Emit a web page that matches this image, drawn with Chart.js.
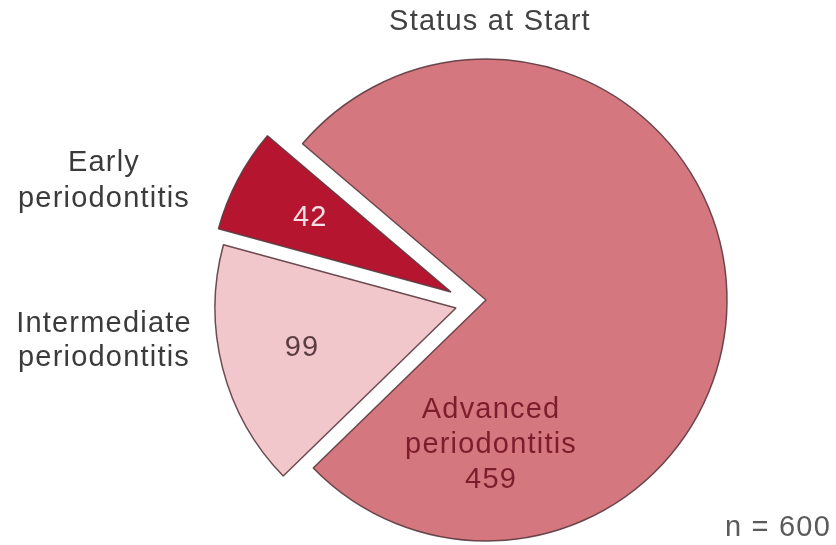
<!DOCTYPE html>
<html>
<head>
<meta charset="utf-8">
<title>Status at Start</title>
<script src="https://cdn.jsdelivr.net/npm/chart.js@4.4.0/dist/chart.umd.min.js"></script>
<style>
  html, body { margin: 0; padding: 0; background: #ffffff; }
  canvas { display: block; }
</style>
</head>
<body>
<canvas id="statusChart" width="836" height="545"></canvas>
<script>
// patient counts by periodontitis stage at start (clockwise from lower left)
const stages = ["Intermediate periodontitis", "Early periodontitis", "Advanced periodontitis"];
const patients = [99, 42, 459];
const totalLabel = "n = 600";

const sliceColors = ["#f1c7cb", "#b6152f", "#d5777f"];
// exploded slices are pushed out to the left
const sliceShift = [[-30, 8], [-35, -8], [0, 0]];

const FONT = "29px 'Liberation Sans', Arial, Helvetica, sans-serif";

function drawLines(ctx, lines, x, y, lineHeight) {
    const top = y - (lines.length - 1) * lineHeight / 2;
    lines.forEach((line, i) => ctx.fillText(line, x, top + i * lineHeight));
}

// draw each arc moved by its own shift instead of chart.js offset
const explodePlugin = {
    id: "explode",
    beforeDatasetDraw(chart, args) {
        const ctx = chart.ctx;
        args.meta.data.forEach((arc, i) => {
            ctx.save();
            ctx.translate(sliceShift[i][0], sliceShift[i][1]);
            arc.draw(ctx);
            ctx.restore();
        });
        return false;
    }
};

// value labels inside slices, names outside, title and total
const labelPlugin = {
    id: "sliceLabels",
    afterDraw(chart) {
        const ctx = chart.ctx;
        const arcs = chart.getDatasetMeta(0).data;
        ctx.save();
        ctx.font = FONT;
        ctx.letterSpacing = "1.2px";
        ctx.textAlign = "center";
        ctx.textBaseline = "middle";

        // inside labels: [angle override (deg) or null for mid angle, distance as share of radius, colour, lines]
        const inside = [
            [null, 0.66, "#5b3c40", [String(patients[0])]],
            [null, 0.66, "#f6e0e3", [String(patients[1])]],
            [88, 0.6, "#7c1d2d", ["Advanced", "periodontitis", String(patients[2])]]
        ];
        arcs.forEach((arc, i) => {
            const p = arc.getProps(["x", "y", "startAngle", "endAngle", "outerRadius"], true);
            const spec = inside[i];
            const a = spec[0] === null ? (p.startAngle + p.endAngle) / 2 : spec[0] * Math.PI / 180;
            const r = p.outerRadius * spec[1];
            ctx.fillStyle = spec[2];
            drawLines(ctx, spec[3], p.x + sliceShift[i][0] + Math.cos(a) * r,
                p.y + sliceShift[i][1] + Math.sin(a) * r, 35);
        });

        ctx.fillStyle = "#3b3b3b";
        drawLines(ctx, ["Early", "periodontitis"], 104, 181, 36);
        drawLines(ctx, ["Intermediate", "periodontitis"], 104, 341, 34);

        ctx.fillStyle = "#424242";
        ctx.fillText("Status at Start", 490, 22);

        ctx.fillStyle = "#5a5a5a";
        ctx.fillText(totalLabel, 778, 528);
        ctx.restore();
    }
};

new Chart(document.getElementById("statusChart"), {
    type: "pie",
    data: {
        labels: stages,
        datasets: [{
            data: patients,
            backgroundColor: sliceColors,
            borderColor: "rgba(92, 58, 64, 0.9)",
            borderWidth: 1.5,
            clip: false
        }]
    },
    options: {
        responsive: false,
        animation: false,
        events: [],
        radius: 241,
        rotation: 225.8,
        layout: { padding: { left: 136, right: 0, top: 55, bottom: 0 } },
        plugins: {
            legend: { display: false },
            title: { display: false },
            tooltip: { enabled: false }
        }
    },
    plugins: [explodePlugin, labelPlugin]
});
</script>
</body>
</html>
